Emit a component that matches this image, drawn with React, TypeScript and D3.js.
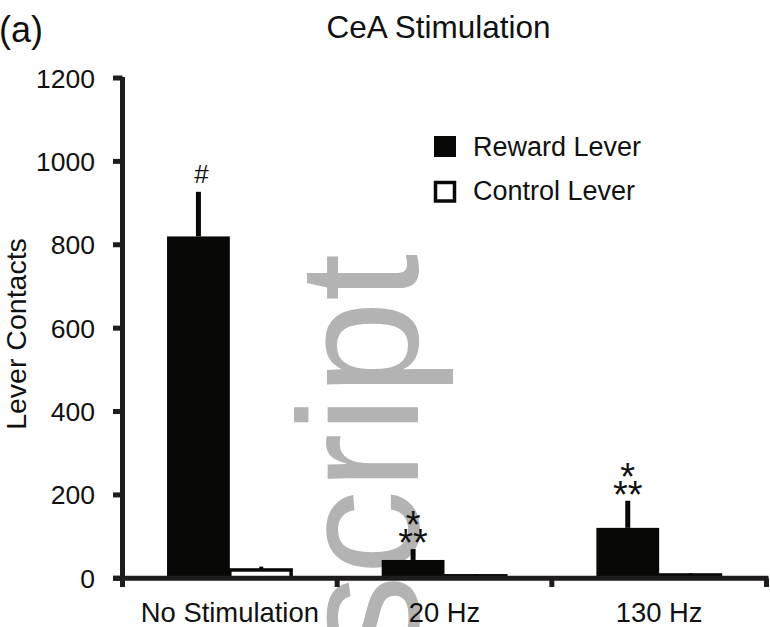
import React from "react";
import * as d3 from "d3";

// Lever contacts under three CeA stimulation conditions
const categories = ["No Stimulation", "20 Hz", "130 Hz"];
const seriesNames = ["Reward Lever", "Control Lever"];
const rewardMeans = [820, 44, 121];
const rewardErrors = [107, 26, 65];
const controlMeans = [20, 6, 8];
const controlErrors = [8, 4, 4];
const yTicks = [0, 200, 400, 600, 800, 1000, 1200];
// significance markers drawn above each reward bar
const rewardMarks: string[][] = [["#"], ["*", "**"], ["*", "**"]];

const FONT = "'Liberation Sans', Arial, Helvetica, sans-serif";
const W = 770;
const H = 627;

export default function App() {
  const y = d3.scaleLinear().domain([0, 1200]).range([578.3, 78]);
  const x = d3.scaleBand<string>().domain(categories).range([122.5, 766.5]).padding(0);
  const sub = d3
    .scaleBand<string>()
    .domain(seriesNames)
    .range([0, x.bandwidth()])
    .paddingInner(0)
    .paddingOuter(0.709);

  const axisColor = "#1e1c1c";
  const y0 = y(0);
  const boundaries = [...categories.map((c) => x(c) as number), x.range()[1]];

  return (
    <svg width={W} height={H} style={{ display: "block", position: "absolute", left: 0, top: 0 }}>
      <rect width={W} height={H} fill="#fff" />

      {/* background watermark */}
      <text
        transform="translate(418,660) rotate(-90)"
        fontFamily={FONT}
        fontSize={170}
        fill="#b3b3b3"
      >
        script
      </text>

      {/* panel label and title */}
      <text x={-1} y={42} fontFamily={FONT} fontSize={36} fill="#111">
        (a)
      </text>
      <text x={438.5} y={37.5} textAnchor="middle" fontFamily={FONT} fontSize={31.5} fill="#111">
        CeA Stimulation
      </text>

      {/* y-axis label */}
      <text
        transform={`translate(26,334) rotate(-90)`}
        textAnchor="middle"
        fontFamily={FONT}
        fontSize={28.5}
        fill="#111"
      >
        Lever Contacts
      </text>

      {/* bars: reward */}
      {categories.map((c, i) => {
        const bx = (x(c) as number) + (sub("Reward Lever") as number);
        return (
          <rect
            key={"r" + c}
            x={bx}
            y={y(rewardMeans[i])}
            width={sub.bandwidth()}
            height={y0 - y(rewardMeans[i])}
            fill="#080806"
          />
        );
      })}
      {/* reward error bars */}
      {categories.map((c, i) => {
        const cx = (x(c) as number) + (sub("Reward Lever") as number) + sub.bandwidth() / 2;
        return (
          <line
            key={"re" + c}
            x1={cx}
            x2={cx}
            y1={y(rewardMeans[i])}
            y2={y(rewardMeans[i] + rewardErrors[i])}
            stroke="#080806"
            strokeWidth={5}
          />
        );
      })}

      {/* bars: control */}
      {categories.map((c, i) => {
        const bx = (x(c) as number) + (sub("Control Lever") as number);
        const cx = bx + sub.bandwidth() / 2;
        return (
          <g key={"c" + c}>
            <line
              x1={cx}
              x2={cx}
              y1={y(controlMeans[i])}
              y2={y(controlMeans[i] + controlErrors[i])}
              stroke="#080806"
              strokeWidth={4}
            />
            <rect
              x={bx}
              y={y(controlMeans[i])}
              width={sub.bandwidth() - 1.5}
              height={y0 - y(controlMeans[i])}
              fill="#fff"
              stroke="#080806"
              strokeWidth={3.5}
            />
          </g>
        );
      })}

      {/* significance markers */}
      {categories.map((c, i) => {
        const cx = (x(c) as number) + (sub("Reward Lever") as number) + sub.bandwidth() / 2;
        const top = y(rewardMeans[i] + rewardErrors[i]);
        const marks = rewardMarks[i];
        if (marks[0] === "#") {
          return (
            <text key={"m" + c} x={cx + 3} y={top - 8.5} textAnchor="middle" fontFamily={FONT} fontSize={26} fill="#111">
              #
            </text>
          );
        }
        return (
          <g key={"m" + c}>
            <text x={cx} y={top + 7 - 18} textAnchor="middle" fontFamily={FONT} fontSize={38} fill="#111">
              {marks[0]}
            </text>
            <text x={cx} y={top + 7} textAnchor="middle" fontFamily={FONT} fontSize={38} fill="#111">
              {marks[1]}
            </text>
          </g>
        );
      })}

      {/* y axis */}
      <line x1={122.5} x2={122.5} y1={y(1200) - 1} y2={y0 + 2} stroke={axisColor} strokeWidth={5} />
      {yTicks.map((t) => (
        <g key={"yt" + t}>
          <line x1={113} x2={122.5} y1={y(t)} y2={y(t)} stroke={axisColor} strokeWidth={5} />
          <text
            x={95}
            y={y(t)}
            dy="0.36em"
            textAnchor="end"
            fontFamily={FONT}
            fontSize={26.5}
            fill="#111"
          >
            {t}
          </text>
        </g>
      ))}

      {/* x axis */}
      <line x1={113} x2={768.5} y1={y0} y2={y0} stroke={axisColor} strokeWidth={5} />
      {boundaries.map((b, i) => (
        <line key={"xt" + i} x1={b} x2={b} y1={y0} y2={587} stroke={axisColor} strokeWidth={5} />
      ))}
      {categories.map((c) => (
        <text
          key={"xl" + c}
          x={(x(c) as number) + x.bandwidth() / 2}
          y={622}
          textAnchor="middle"
          fontFamily={FONT}
          fontSize={27.4}
          fill="#111"
        >
          {c}
        </text>
      ))}

      {/* legend */}
      <rect x={434} y={136} width={22} height={21} fill="#080806" />
      <text x={473} y={156} fontFamily={FONT} fontSize={27} fill="#111">
        {seriesNames[0]}
      </text>
      <rect x={435.5} y={182.5} width={19} height={18.5} fill="#fff" stroke="#080806" strokeWidth={3.5} />
      <text x={473} y={200} fontFamily={FONT} fontSize={27} fill="#111">
        {seriesNames[1]}
      </text>
    </svg>
  );
}
